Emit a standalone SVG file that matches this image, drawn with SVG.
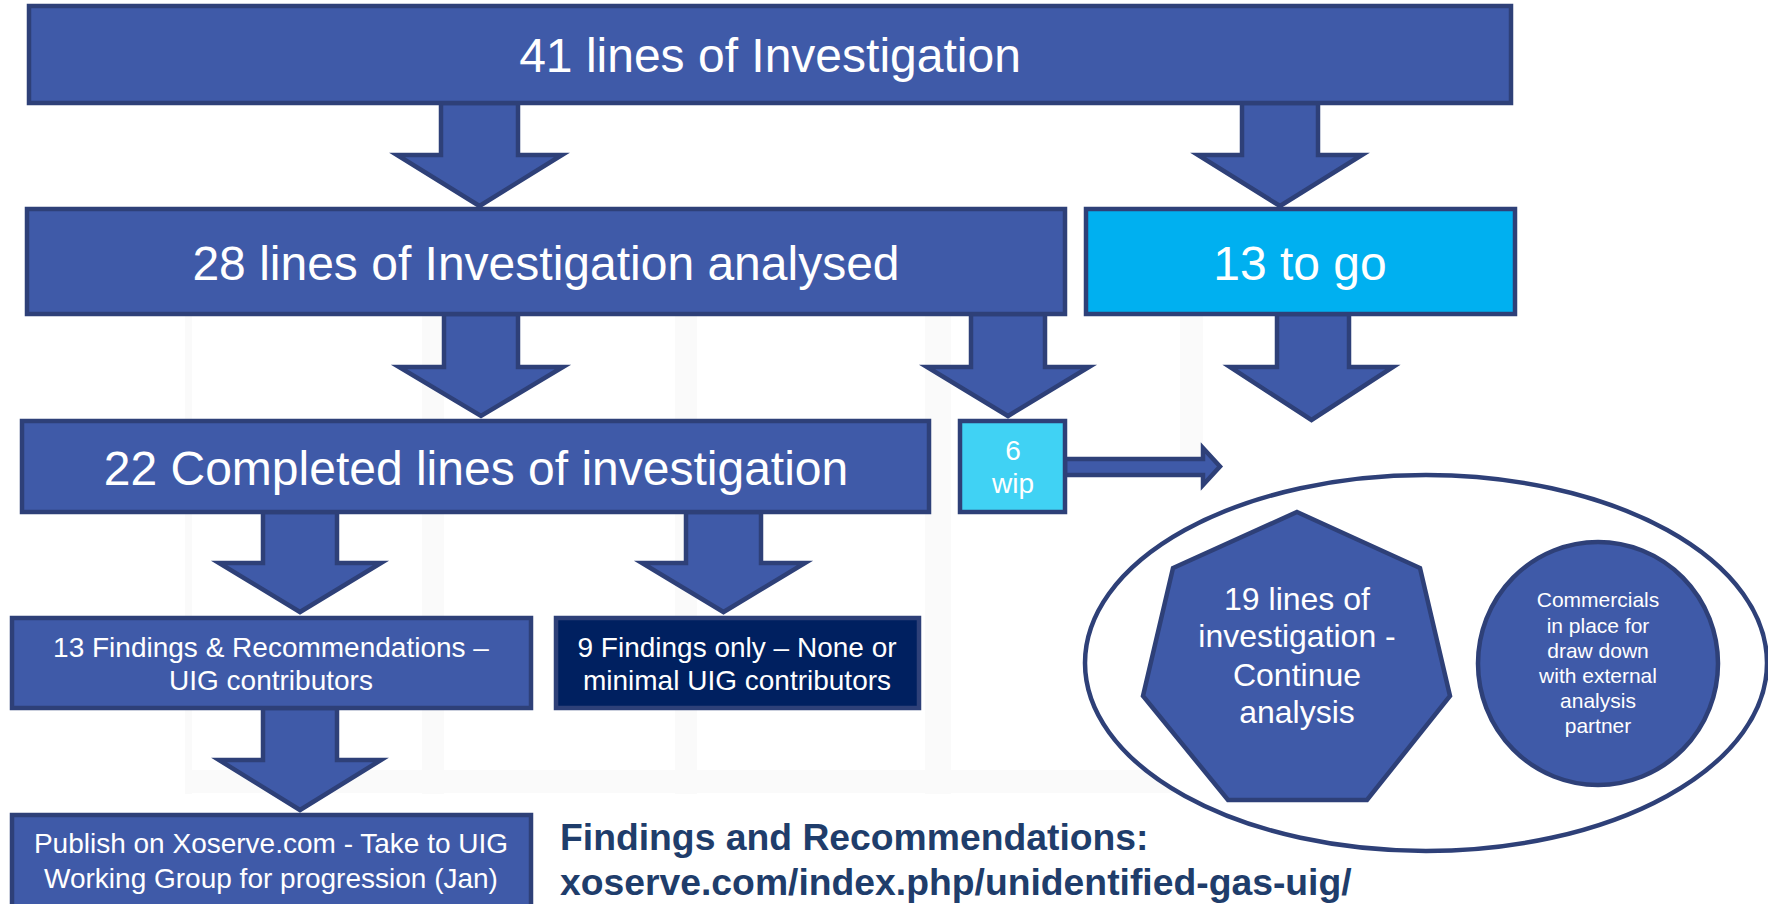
<svg xmlns="http://www.w3.org/2000/svg" width="1768" height="904" viewBox="0 0 1768 904">
<style>
.box{fill:#3F5AA8;stroke:#2E4078;stroke-width:4.5}
.cyan{fill:#00B0F0;stroke:#2E4078;stroke-width:4.5}
.lcyan{fill:#40D2F4;stroke:#2E4078;stroke-width:4.5}
.navy{fill:#002060;stroke:#2E4078;stroke-width:4.5}
.arr{fill:#3F5AA8;stroke:#2E4078;stroke-width:4.5;stroke-linejoin:miter}
.bg{fill:#FAFAFA}
text{font-family:"Liberation Sans",Arial,sans-serif;fill:#fff;text-anchor:middle}
.t48{font-size:48px}
.t28{font-size:28px}
.t32{font-size:32px}
.t21{font-size:21px}
.link{font-size:37.3px;font-weight:bold;fill:#1F3D6B;text-anchor:start}
</style>
<rect width="1768" height="904" fill="#fff"/>
<g id="background">
<rect class="bg" x="185" y="316" width="7" height="478"/>
<rect class="bg" x="422" y="316" width="22" height="478"/>
<rect class="bg" x="675" y="316" width="22" height="478"/>
<rect class="bg" x="925" y="316" width="26" height="478"/>
<rect class="bg" x="1180" y="316" width="23" height="160"/>
<rect class="bg" x="189" y="770" width="1000" height="23"/>
</g>
<g id="connectors">
<path class="arr" d="M441,103 L518,103 L518,155 L562,155 L479.5,206 L397,155 L441,155 Z"/>
<path class="arr" d="M1242,103 L1318,103 L1318,155 L1362,155 L1280,206 L1198,155 L1242,155 Z"/>
<path class="arr" d="M444,314 L518,314 L518,367 L563,367 L481,416 L399,367 L444,367 Z"/>
<path class="arr" d="M971,314 L1045,314 L1045,367 L1089,367 L1008,416 L927,367 L971,367 Z"/>
<path class="arr" d="M1277,314 L1349,314 L1349,367 L1393,367 L1311.5,420 L1230,367 L1277,367 Z"/>
<path class="arr" d="M263,512 L337,512 L337,563 L381,563 L300,612 L219,563 L263,563 Z"/>
<path class="arr" d="M686,512 L761,512 L761,563 L805,563 L723.5,612 L642,563 L686,563 Z"/>
<path class="arr" d="M263,708 L337,708 L337,760 L381,760 L300,810 L219,760 L263,760 Z"/>
<path class="arr" d="M1065,459 L1203,459 L1203,448 L1220,466.5 L1203,485 L1203,475 L1065,475 Z"/>
</g>
<g id="n41">
<rect class="box" x="29" y="6" width="1482" height="97"/>
<text class="t48" x="770" y="72">41 lines of Investigation</text>
</g>
<g id="n28">
<rect class="box" x="27" y="209" width="1038" height="105"/>
<text class="t48" x="546" y="280">28 lines of Investigation analysed</text>
</g>
<g id="n13go">
<rect class="cyan" x="1086" y="209" width="429" height="105"/>
<text class="t48" x="1300" y="280">13 to go</text>
</g>
<g id="n22">
<rect class="box" x="22" y="421" width="907" height="91"/>
<text class="t48" x="476" y="485">22 Completed lines of investigation</text>
</g>
<g id="nwip">
<rect class="lcyan" x="960" y="421" width="105" height="91"/>
<text class="t28" x="1013" y="460">6</text>
<text class="t28" x="1013" y="493">wip</text>
</g>
<g id="n13f">
<rect class="box" x="12" y="618" width="519" height="90"/>
<text class="t28" x="271" y="657">13 Findings &amp; Recommendations –</text>
<text class="t28" x="271" y="690">UIG contributors</text>
</g>
<g id="n9f">
<rect class="navy" x="556" y="618" width="363" height="90"/>
<text class="t28" x="737" y="657">9 Findings only – None or</text>
<text class="t28" x="737" y="690">minimal UIG contributors</text>
</g>
<g id="npublish">
<rect class="box" x="12" y="815" width="519" height="100"/>
<text class="t28" x="271" y="853">Publish on Xoserve.com - Take to UIG</text>
<text class="t28" x="271" y="888">Working Group for progression (Jan)</text>
</g>
<g id="nlink">
<text class="link" x="560" y="850">Findings and Recommendations:</text>
<text class="link" x="560" y="895">xoserve.com/index.php/unidentified-gas-uig/</text>
</g>
<g id="ngroup">
<ellipse cx="1426" cy="663" rx="341" ry="188" fill="#fff" stroke="#2E4078" stroke-width="4.5"/>
</g>
<g id="n19">
<polygon class="box" points="1297,512 1420,568 1450,696 1367,800 1228,800 1143,696 1173,568"/>
<text class="t32" x="1297" y="610">19 lines of</text>
<text class="t32" x="1297" y="647">investigation -</text>
<text class="t32" x="1297" y="686">Continue</text>
<text class="t32" x="1297" y="723">analysis</text>
</g>
<g id="ncomm">
<ellipse class="box" cx="1598" cy="663.5" rx="120" ry="121.5"/>
<text class="t21" x="1598" y="607">Commercials</text>
<text class="t21" x="1598" y="633">in place for</text>
<text class="t21" x="1598" y="658">draw down</text>
<text class="t21" x="1598" y="683">with external</text>
<text class="t21" x="1598" y="708">analysis</text>
<text class="t21" x="1598" y="733">partner</text>
</g>
</svg>
